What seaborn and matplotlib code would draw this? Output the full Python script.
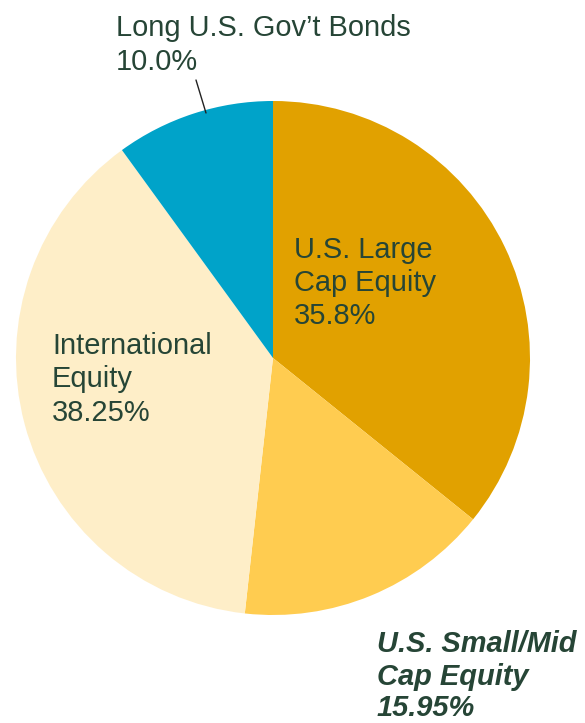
import matplotlib
matplotlib.use("Agg")
import matplotlib.pyplot as plt
import seaborn as sns

categories = ["U.S. Large Cap Equity", "U.S. Small/Mid Cap Equity", "International Equity", "Long U.S. Gov\u2019t Bonds"]
values = [35.8, 15.95, 38.25, 10.0]
value_labels = ["35.8%", "15.95%", "38.25%", "10.0%"]
colors = ["#E1A100", "#FFCC50", "#FEEEC8", "#00A3C9"]

sns.set_style("white")
plt.rcParams['font.family'] = ['Liberation Sans', 'DejaVu Sans']

W, H = 585, 723
fig = plt.figure(figsize=(W / 100, H / 100), dpi=100)
ax = fig.add_axes([0, 0, 1, 1])

cx, cy, r = 273, H - 358, 257
ax.pie(values, colors=colors, startangle=90, counterclock=False,
       center=(cx, cy), radius=r, frame=True,
       wedgeprops=dict(linewidth=0, antialiased=True))
ax.set_xlim(0, W)
ax.set_ylim(0, H)
ax.set_aspect('equal')
ax.axis('off')

tc = "#264536"
fs = 20.9

def put(lines, x, baselines, **kw):
    for ln, b in zip(lines, baselines):
        ax.text(x, H - b, ln, ha='left', va='baseline', fontsize=fs, color=tc, **kw)

put(["Long U.S. Gov\u2019t Bonds", value_labels[3]], 116, [36, 70])
put(["U.S. Large", "Cap Equity", value_labels[0]], 294, [258, 291, 324])
put(["International", "Equity", value_labels[2]], 52, [354, 387, 421])
put(["U.S. Small/Mid", "Cap Equity", value_labels[1]], 377, [652, 685, 716],
    fontweight='bold', fontstyle='italic')

# leader line for the bonds label
ax.plot([196, 206], [H - 80, H - 113], color="#222222", linewidth=1.0)

fig.savefig("out.png", dpi=100)
